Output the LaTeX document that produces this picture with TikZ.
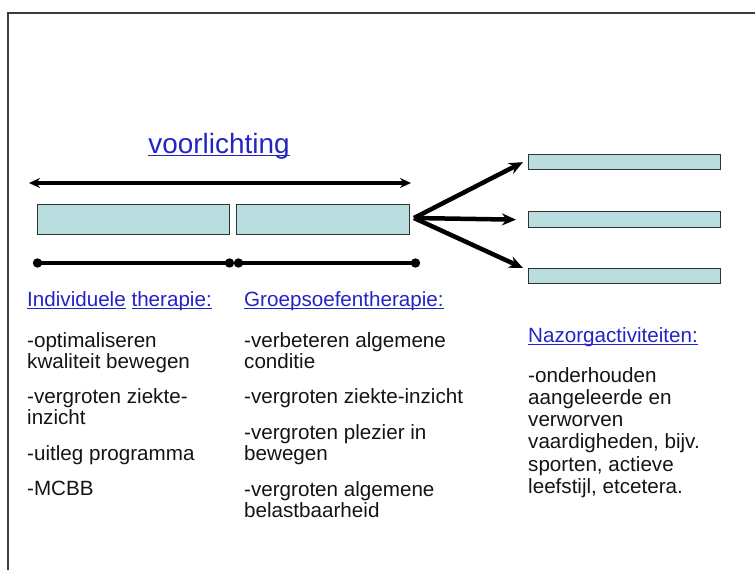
\documentclass[tikz,border=0pt]{standalone}
\usepackage{fontspec}
\setmainfont{Liberation Sans}
\usetikzlibrary{arrows.meta}
\definecolor{boxfill}{RGB}{186,222,224}
\definecolor{boxline}{RGB}{50,50,50}
\definecolor{linkblue}{RGB}{36,36,196}
\definecolor{framegray}{RGB}{60,60,60}
\definecolor{textblack}{RGB}{20,20,20}
\newcommand{\myul}[1]{\setbox0\hbox{#1}\rlap{\rule[-2.5bp]{\wd0}{1bp}}\box0\relax}
\begin{document}
\begin{tikzpicture}[x=1bp,y=-1bp,
  bar/.style={draw=boxline, line width=1.3bp, fill=boxfill, inner sep=0pt, anchor=north west},
  bigarrow/.style={line width=4.5bp, -{Stealth[length=14bp,width=12bp]}},
  dblarrow/.style={line width=4.5bp, {Stealth[length=11bp,width=10bp]}-{Stealth[length=11bp,width=10bp]}},
  dotline/.style={line width=4.5bp, {Circle[length=9bp]}-{Circle[length=9bp]}},
  txt/.style={anchor=base west, inner sep=0pt, text=textblack, font=\fontsize{20.7}{22}\selectfont},
  head/.style={txt, text=linkblue}]
\useasboundingbox (0,0) rectangle (755,570);
\draw[framegray, line width=1.6bp] (8,570) -- (8,13) -- (755,13);

% title
\node[anchor=base, inner sep=0pt, text=linkblue, font=\fontsize{28}{30}\selectfont] (vl) at (219,154) {\myul{voorlichting}};

% boxes
\node[bar, minimum width=192bp, minimum height=30bp] (b1) at (37,204) {};
\node[bar, minimum width=173bp, minimum height=30bp] (b2) at (236,204) {};
\node[bar, minimum width=192bp, minimum height=15bp] (r1) at (528,154) {};
\node[bar, minimum width=192bp, minimum height=16bp] (r2) at (528,211) {};
\node[bar, minimum width=192bp, minimum height=15bp] (r3) at (528,268) {};

% arrows
\coordinate (ta1) at (29,183);
\coordinate (ta2) at (411,183);
\draw[dblarrow] (ta1) -- (ta2);

\coordinate (bl1) at (33,263);
\coordinate (bl2) at (234,263);
\coordinate (bl3) at (234,263);
\coordinate (bl4) at (420,263);
\draw[dotline] (bl1) -- (bl2);
\draw[dotline] (bl3) -- (bl4);

\coordinate (fan) at (414,218);
\draw[bigarrow] (fan) -- ([xshift=-5bp]r1.west);
\draw[bigarrow] (fan) -- ([xshift=-12bp]r2.west);
\draw[bigarrow] (fan) -- ([xshift=-5bp]r3.north west);

% column 1
\node[head] (h1) at (27,306) {\myul{Individuele} \myul{therapie:}};
\node[txt] (c1a) at (27,347) {-optimaliseren};
\node[txt] (c1b) at (27,368) {kwaliteit bewegen};
\node[txt] (c1c) at (27,403) {-vergroten ziekte-};
\node[txt] (c1d) at (27,424) {inzicht};
\node[txt] (c1e) at (27,460) {-uitleg programma};
\node[txt] (c1f) at (27,495) {-MCBB};

% column 2
\node[head] (h2) at (244,306) {\myul{Groepsoefentherapie:}};
\node[txt] (c2a) at (244,347) {-verbeteren algemene};
\node[txt] (c2b) at (244,368) {conditie};
\node[txt] (c2c) at (244,403) {-vergroten ziekte-inzicht};
\node[txt] (c2d) at (244,439) {-vergroten plezier in};
\node[txt] (c2e) at (244,460) {bewegen};
\node[txt] (c2f) at (244,496) {-vergroten algemene};
\node[txt] (c2g) at (244,517) {belastbaarheid};

% column 3
\node[head] (h3) at (528,342) {\myul{Nazorgactiviteiten:}};
\node[txt] (c3a) at (528,382) {-onderhouden};
\node[txt] (c3b) at (528,404) {aangeleerde en};
\node[txt] (c3c) at (528,426) {verworven};
\node[txt] (c3d) at (528,448) {vaardigheden, bijv.};
\node[txt] (c3e) at (528,471) {sporten, actieve};
\node[txt] (c3f) at (528,493) {leefstijl, etcetera.};
\end{tikzpicture}
\end{document}
